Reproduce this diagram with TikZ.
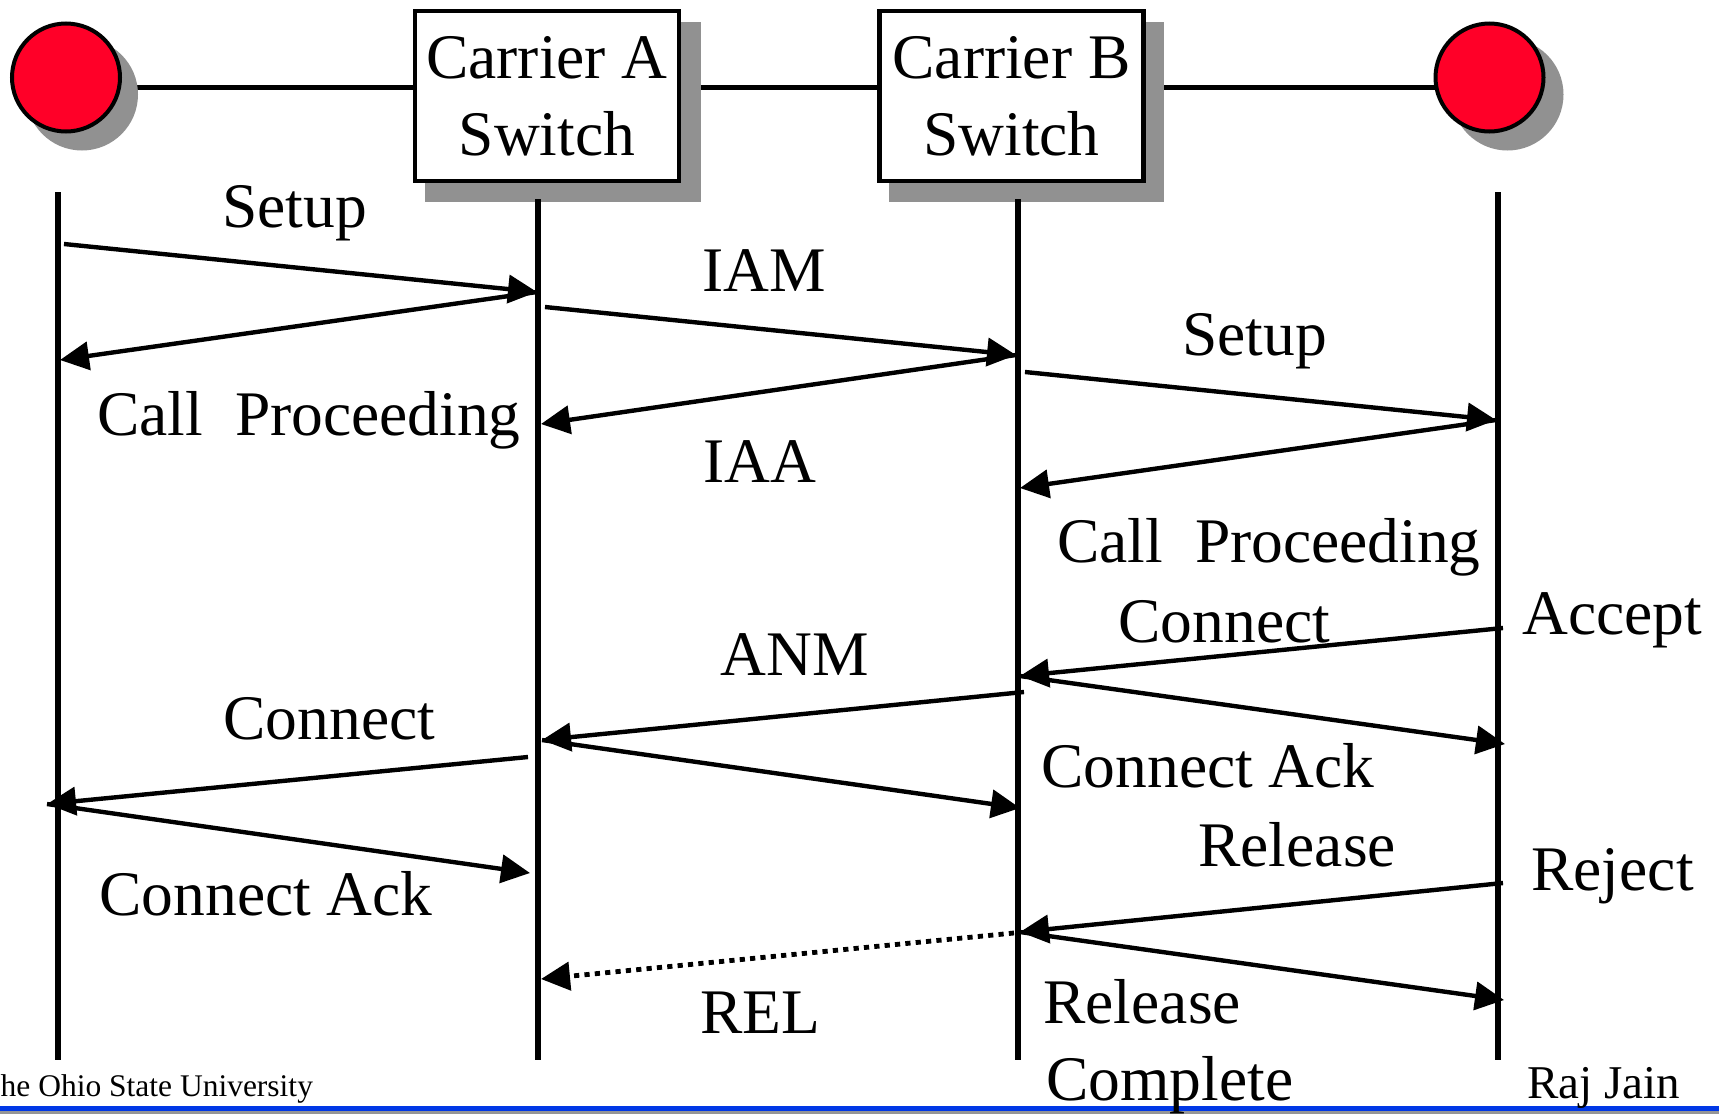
\documentclass[tikz,border=0pt]{standalone}
\usepackage{fontspec}
\setmainfont{Liberation Serif}
\usetikzlibrary{arrows.meta}
\definecolor{nodered}{RGB}{255,0,40}
\definecolor{shadowgray}{RGB}{145,145,145}
\definecolor{footblue}{RGB}{0,56,230}
\definecolor{footgray}{RGB}{150,150,150}
\pgfdeclarelayer{back}
\pgfdeclarelayer{shade}
\pgfsetlayers{back,shade,main}
\begin{document}
\begin{tikzpicture}[x=0.5pt,y=-0.5pt,
  bigfont/.style={font=\fontsize{31.75}{38.5}\selectfont},
  lifeline/.style={line width=2.7pt},
  hline/.style={line width=2.6pt},
  msg/.style={line width=2.2pt,-{Triangle[length=14.5pt,width=14pt]}},
  dotmsg/.style={msg,line width=2.4pt,dash pattern=on 2.6pt off 2.6pt},
  lbl/.style={bigfont,inner sep=0pt,anchor=base west},
  footlbl/.style={font=\fontsize{15.75}{19}\selectfont,inner sep=0pt,anchor=base west},
  authorlbl/.style={font=\fontsize{23.5}{28}\selectfont,inner sep=0pt,anchor=base west},
  switchbox/.style={bigfont,draw,line width=2.2pt,fill=white,align=center,
    minimum width=132pt,minimum height=85pt,inner sep=0pt},
  terminal/.style={circle,draw,line width=2pt,fill=nodered,minimum size=54pt,inner sep=0pt},
  shadowfill/.style={fill=shadowgray}]

\useasboundingbox (0,0) rectangle (1719,1114);
\clip (0,0) rectangle (1719,1114);

% end points and switches
\node[terminal] (L) at (66,77.5) {};
\node[terminal] (R) at (1489.5,77.5) {};
\node[switchbox] (A) at (547,96) {Carrier A\\Switch};
\node[switchbox] (B) at (1011.5,96) {Carrier B\\Switch};

\begin{pgfonlayer}{shade}
  \fill[shadowfill] ([shift={(16,17)}]L.center) circle[radius=28pt];
  \fill[shadowfill] ([shift={(18,17)}]R.center) circle[radius=28pt];
  \fill[shadowfill] ([shift={(12,13)}]A.north west) rectangle ([shift={(20,19)}]A.south east);
  \fill[shadowfill] ([shift={(12,13)}]B.north west) rectangle ([shift={(18,19)}]B.south east);
\end{pgfonlayer}
\begin{pgfonlayer}{back}
  \draw[hline] ([yshift=-5pt]L.center) -- ([yshift=-5pt]R.center);
\end{pgfonlayer}

% lifelines
\coordinate (Lt) at (58,192);  \coordinate (Lb) at (58,1060);
\coordinate (At) at (538,199); \coordinate (Ab) at (538,1060);
\coordinate (Bt) at (1018,199); \coordinate (Bb) at (1018,1060);
\coordinate (Rt) at (1498,192); \coordinate (Rb) at (1498,1060);
\draw[lifeline] (Lt) -- (Lb);
\draw[lifeline] (At) -- (Ab);
\draw[lifeline] (Bt) -- (Bb);
\draw[lifeline] (Rt) -- (Rb);

% message end points
\coordinate (s1) at (64,244);
\coordinate (a1) at (537,292);
\coordinate (l1) at (60,360);
\coordinate (a2) at (545,307);
\coordinate (b1) at (1016,355);
\coordinate (a3) at (541,424);
\coordinate (b2) at (1025,372);
\coordinate (r1) at (1496,420);
\coordinate (b3) at (1020,488);
\coordinate (r2) at (1503,628);
\coordinate (b4) at (1020,676);
\coordinate (r3) at (1505,744);
\coordinate (b5) at (1024,692);
\coordinate (a4) at (542,740);
\coordinate (b6) at (1020,808);
\coordinate (a5) at (528,757);
\coordinate (l2) at (47,804);
\coordinate (a6) at (530,873);
\coordinate (r4) at (1503,883);
\coordinate (b7) at (1020,932);
\coordinate (b8) at (1014,933);
\coordinate (a7) at (541,979);
\coordinate (r5) at (1504,1000);

\draw[msg] (s1) -- (a1);
\draw[msg] (a1) -- (l1);
\draw[msg] (a2) -- (b1);
\draw[msg] (b1) -- (a3);
\draw[msg] (b2) -- (r1);
\draw[msg] (r1) -- (b3);
\draw[msg] (r2) -- (b4);
\draw[msg] (b4) -- (r3);
\draw[msg] (b5) -- (a4);
\draw[msg] (a4) -- (b6);
\draw[msg] (a5) -- (l2);
\draw[msg] (l2) -- (a6);
\draw[msg] (r4) -- (b7);
\draw[dotmsg] (b8) -- (a7);
\draw[msg] (b7) -- (r5);

% footer bar
\fill[footblue] (0,1106) rectangle (1719,1111);
\fill[footgray] (0,1111) rectangle (1719,1114);

% labels
\node[lbl] (t1) at (222,227) {Setup};
\node[lbl] (t2) at (97,435) {Call~ Proceeding};
\node[lbl] (t3) at (702,291) {IAM};
\node[lbl] (t4) at (703,482) {IAA};
\node[lbl] (t5) at (1182,355) {Setup};
\node[lbl] (t6) at (1057,562) {Call~ Proceeding};
\node[lbl] (t7) at (1118,642) {Connect};
\node[lbl] (t8) at (1522,634) {Accept};
\node[lbl] (t9) at (720,675) {ANM};
\node[lbl] (t10) at (223,739) {Connect};
\node[lbl] (t11) at (1041,787) {Connect Ack};
\node[lbl] (t12) at (1198,866) {Release};
\node[lbl] (t13) at (1531,890) {Reject};
\node[lbl] (t14) at (99,915) {Connect Ack};
\node[lbl] (t15) at (700,1033) {REL};
\node[lbl] (t16) at (1043,1023) {Release};
\node[lbl] (t17) at (1046,1100) {Complete};
\node[footlbl] (f1) at (-19,1096) {The Ohio State University};
\node[authorlbl] (f2) at (1527,1098) {Raj Jain};
\end{tikzpicture}
\end{document}
